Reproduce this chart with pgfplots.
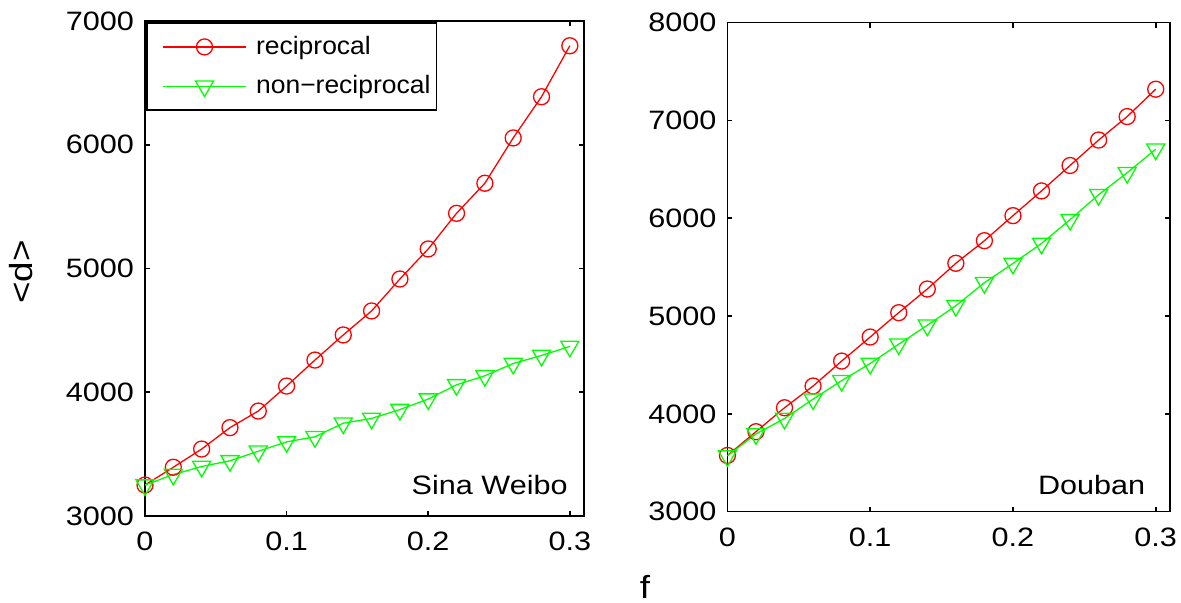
\documentclass[border=0pt]{standalone}
\usepackage{fontspec}
\setmainfont{Liberation Sans}[FakeStretch=1.15]
\newfontfamily\legfont{Liberation Sans}[FakeStretch=1.05]
\usepackage{pgfplots}
\usepackage{pgfplotstable}
\pgfplotsset{compat=1.18}

\pgfplotstableread{
f rec non
0.00 3250 3250
0.02 3394 3335
0.04 3541 3400
0.06 3714 3446
0.08 3848 3523
0.10 4050 3599
0.12 4260 3640
0.14 4463 3750
0.16 4657 3788
0.18 4915 3860
0.20 5158 3945
0.22 5446 4060
0.24 5689 4133
0.26 6055 4232
0.28 6388 4297
0.30 6800 4370
}\weibo

\pgfplotstableread{
f rec non
0.00 3575 3570
0.02 3818 3795
0.04 4063 3953
0.06 4285 4151
0.08 4540 4340
0.10 4786 4515
0.12 5035 4713
0.14 5277 4906
0.16 5540 5106
0.18 5771 5341
0.20 6027 5538
0.22 6280 5743
0.24 6540 5986
0.26 6800 6241
0.28 7040 6466
0.30 7320 6706
}\douban

\begin{document}
\begin{tikzpicture}
\useasboundingbox (0pt,0pt) rectangle (590.5pt,301.5pt);
\pgfplotsset{
  every axis/.append style={
    scale only axis,
    axis line style={line width=0.8pt},
    every tick/.style={line width=0.8pt, black},
    tick align=inside,
    major tick length=2.5pt,
    xmin=0, xmax=0.31,
    xtick={0,0.1,0.2,0.3}, xticklabels={0,0.1,0.2,0.3},
    tick label style={font=\fontsize{13.3}{16}\selectfont},
    /pgf/number format/assume math mode=true,
    xticklabel style={yshift=-4.6pt},
    yticklabel style={xshift=-2pt},
  },
  rec/.style={red, line width=0.65pt, mark=o, mark size=4pt, mark options={solid}},
  non/.style={green, line width=0.65pt, mark=triangle, mark size=5.2pt, mark options={solid, rotate=180}},
}
\begin{axis}[
  at={(72.5pt,43.5pt)}, anchor=south west,
  width=219.5pt, height=247.5pt,
  ymin=3000, ymax=7000,
  ytick={3000,4000,5000,6000,7000}, yticklabels={3000,4000,5000,6000,7000},
  legend style={at={(0.003,0.997)}, anchor=north west, draw=black, line width=0.8pt,
    font=\legfont\fontsize{12.6}{15}\selectfont, inner xsep=1pt, inner ysep=4.5pt, row sep=5pt},
  legend cell align=left,
  legend image code/.code={\path[draw=none,fill=none] (0pt,0pt) -- (51.5pt,0pt);\draw[mark repeat=2,mark phase=2,#1] plot coordinates {(7pt,0pt) (27.7pt,0pt) (48.4pt,0pt)};},
]
\addplot[rec] table[x=f,y=rec] {\weibo};
\addlegendentry{reciprocal}
\addplot[non] table[x=f,y=non] {\weibo};
\addlegendentry{non−reciprocal}
\node[anchor=east, inner sep=0pt, font=\fontsize{13.3}{16}\selectfont] at (rel axis cs:0.9636,0.062) {Sina Weibo};
\end{axis}
\begin{axis}[
  at={(363.7pt,45.65pt)}, anchor=south west,
  width=221.3pt, height=244.5pt,
  ymin=3000, ymax=8000,
  ytick={3000,4000,5000,6000,7000,8000}, yticklabels={3000,4000,5000,6000,7000,8000},
]
\addplot[rec] table[x=f,y=rec] {\douban};
\addplot[non] table[x=f,y=non] {\douban};
\node[anchor=east, inner sep=0pt, font=\fontsize{13.3}{16}\selectfont] at (rel axis cs:0.945,0.054) {Douban};
\end{axis}
\node[rotate=90, font=\fontsize{16}{19}\selectfont] at (10.7pt,165.5pt) {<d>};
\node[font=\fontsize{16}{19}\selectfont] at (322.5pt,8.2pt) {f};
\end{tikzpicture}
\end{document}
